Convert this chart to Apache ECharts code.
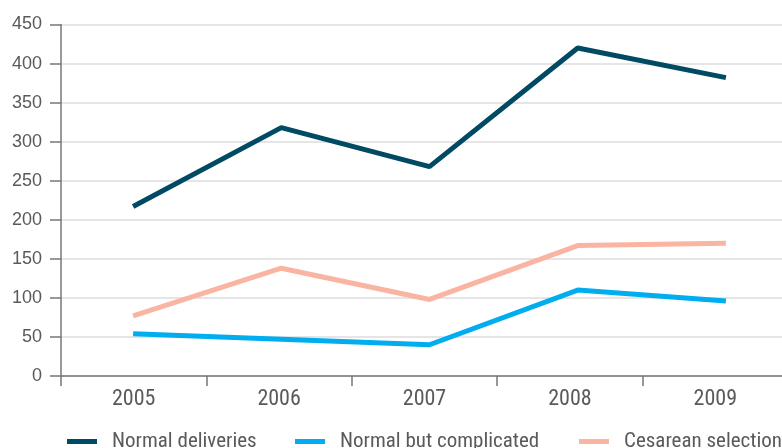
<!DOCTYPE html>
<html>
<head>
<meta charset="utf-8">
<script src="https://cdn.jsdelivr.net/npm/echarts@6/dist/echarts.min.js"></script>
<style>
  html, body { margin: 0; padding: 0; background: #fff; }
  #chart { width: 782px; height: 448px; }
</style>
</head>
<body>
<div id="chart"></div>
<script>
const years = ['2005', '2006', '2007', '2008', '2009'];
const normalDeliveries = [217, 318, 268, 420, 382];
const normalComplicated = [54, 47, 40, 110, 96];
const cesareanSelection = [77, 138, 98, 167, 170];
const yTicks = { min: 0, max: 450, interval: 50 };

const condensed = '"Roboto Condensed", "DejaVu Sans Condensed", sans-serif';
const textGray = '#5a5a5a';
const axisGray = '#777';

function legendAt(name, left) {
  return {
    data: [name],
    left: left,
    top: 426,
    icon: 'rect',
    itemWidth: 30,
    itemHeight: 5,
    textStyle: { fontFamily: condensed, fontSize: 21, color: textGray, padding: [0, 0, 0, 10] }
  };
}

// lines sit on their own (hidden) grid: in the original the points are spaced
// a little wider than the drawn category ticks
function lineSeries(name, data, color) {
  return {
    name: name,
    type: 'line',
    xAxisIndex: 1,
    yAxisIndex: 1,
    data: data,
    symbol: 'none',
    lineStyle: { color: color, width: 5 },
    itemStyle: { color: color }
  };
}

const chart = echarts.init(document.getElementById('chart'));
chart.setOption({
  animation: false,
  grid: [
    { left: 61, top: 24.5, width: 727, bottom: 72, outerBoundsMode: 'none', containLabel: false },
    { left: 59, top: 24.5, width: 741, bottom: 72, outerBoundsMode: 'none', containLabel: false }
  ],
  legend: [
    legendAt('Normal deliveries', 62),
    legendAt('Normal but complicated', 290),
    legendAt('Cesarean selection', 574)
  ],
  xAxis: [
    {
      type: 'category',
      gridIndex: 0,
      data: years,
      boundaryGap: true,
      axisLine: { lineStyle: { color: axisGray, width: 1.5 } },
      axisTick: { show: true, length: 10, lineStyle: { color: axisGray, width: 1.5 } },
      axisLabel: { fontFamily: condensed, fontSize: 22, color: textGray, margin: 12 }
    },
    { type: 'category', gridIndex: 1, data: years, boundaryGap: true, show: false }
  ],
  yAxis: [
    {
      type: 'value',
      gridIndex: 0,
      min: yTicks.min,
      max: yTicks.max,
      interval: yTicks.interval,
      axisLine: { show: true, lineStyle: { color: axisGray, width: 1.5 } },
      axisTick: { show: true, length: 11, lineStyle: { color: axisGray, width: 1.5 } },
      axisLabel: { fontFamily: 'Arial, sans-serif', fontSize: 18, color: textGray, margin: 19 },
      splitLine: { lineStyle: { color: '#dddddd', width: 1.5 } }
    },
    {
      type: 'value',
      gridIndex: 1,
      min: yTicks.min,
      max: yTicks.max,
      interval: yTicks.interval,
      show: false,
      splitLine: { show: false }
    }
  ],
  series: [
    lineSeries('Normal deliveries', normalDeliveries, '#004a63'),
    lineSeries('Normal but complicated', normalComplicated, '#00aeef'),
    lineSeries('Cesarean selection', cesareanSelection, '#f9b5a2')
  ]
});
</script>
</body>
</html>
